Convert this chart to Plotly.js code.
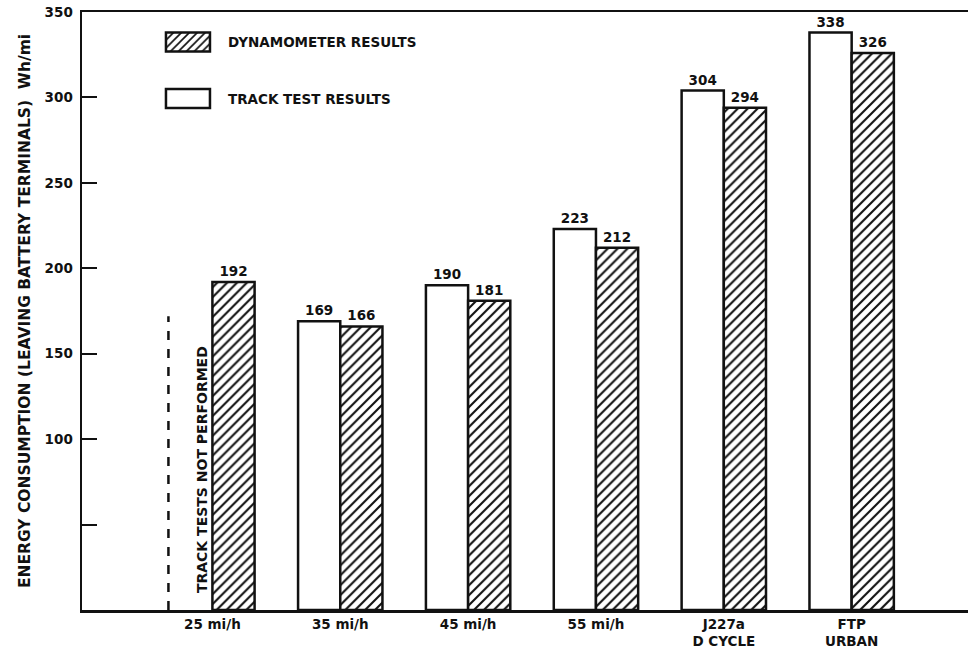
<!DOCTYPE html>
<html>
<head>
<meta charset="utf-8">
<script src="https://cdn.plot.ly/plotly-3.0.1.min.js"></script>
<style>
  html, body { margin: 0; padding: 0; background: #fff; }
  #chart { width: 970px; height: 655px; }
</style>
</head>
<body>
<div id="chart"></div>
<script>
var categories = ["25 mi/h", "35 mi/h", "45 mi/h", "55 mi/h", "J227a<br>D CYCLE", "FTP<br>URBAN"];
var trackValues = [null, 169, 190, 223, 304, 338];
var dynoValues = [192, 166, 181, 212, 294, 326];
var yTickVals = [50, 100, 150, 200, 250, 300, 350];
var yTickText = ["", "100", "150", "200", "250", "300", "350"];
var rightTickVals = [50, 100, 150, 200, 250, 300];
var notPerformedHeight = 172;

var FONT = "DejaVu Sans, Noto Sans, sans-serif";
var INK = "#111";
var W = "bold";

function labels(arr) { return arr.map(function (v) { return v === null ? "" : String(v); }); }

var trackTrace = {
  type: "bar",
  name: "TRACK TEST RESULTS",
  x: categories,
  y: trackValues,
  text: labels(trackValues),
  textposition: "outside",
  cliponaxis: false,
  textfont: { family: FONT, size: 13.5, color: INK, weight: W },
  marker: { color: "#fff", line: { color: INK, width: 2.5 } },
  legendgroup: "track",
  legendrank: 2,
  hoverinfo: "skip"
};

var dynoTrace = {
  type: "bar",
  name: "DYNAMOMETER RESULTS",
  x: categories,
  y: dynoValues,
  text: labels(dynoValues),
  textposition: "outside",
  cliponaxis: false,
  textfont: { family: FONT, size: 13.5, color: INK, weight: W },
  marker: {
    color: "#fff",
    line: { color: INK, width: 2.5 },
    pattern: { shape: "/", fgcolor: INK, bgcolor: "#fff", size: 7, solidity: 0.3 }
  },
  legendgroup: "dyno",
  legendrank: 1,
  hoverinfo: "skip"
};

var layout = {
  width: 970,
  height: 655,
  margin: { l: 82, r: 2, t: 12, b: 45 },
  paper_bgcolor: "#fff",
  plot_bgcolor: "#fff",
  font: { family: FONT, size: 13.5, color: INK, weight: W },
  barmode: "group",
  bargap: 0.34,
  bargroupgap: 0,
  showlegend: true,
  legend: {
    x: 0.1196, y: 0.902, xanchor: "left", yanchor: "middle",
    traceorder: "grouped",
    tracegroupgap: 36,
    bgcolor: "rgba(0,0,0,0)", font: { family: FONT, size: 13.5, color: INK, weight: W }
  },
  xaxis: {
    type: "category",
    range: [-1.02, 5.91],
    showline: true,
    mirror: true,
    linecolor: INK,
    linewidth: 2.5,
    ticks: "",
    showgrid: false,
    zeroline: false,
    tickfont: { family: FONT, size: 13.5, color: INK, weight: W }
  },
  yaxis: {
    range: [0, 350],
    tickvals: yTickVals,
    ticktext: yTickText,
    ticks: "inside",
    ticklen: 15,
    tickwidth: 2,
    tickcolor: INK,
    showline: true,
    linecolor: INK,
    linewidth: 2.5,
    showgrid: false,
    zeroline: false,
    ticklabelstandoff: 4,
    tickfont: { family: FONT, size: 13.5, color: INK, weight: W },
    title: {
      text: "ENERGY CONSUMPTION (LEAVING BATTERY TERMINALS)  Wh/mi",
      font: { family: FONT, size: 15.5, color: INK, weight: W },
      standoff: 10
    }
  },
  yaxis2: {
    overlaying: "y",
    side: "right",
    anchor: "x",
    range: [0, 350],
    tickvals: rightTickVals,
    ticks: "inside",
    ticklen: 8,
    tickwidth: 2,
    tickcolor: INK,
    showline: false,
    showgrid: false,
    zeroline: false,
    showticklabels: false
  },
  shapes: [
    {
      type: "line", xref: "x", yref: "y",
      x0: -0.344, x1: -0.344, y0: 0, y1: notPerformedHeight,
      line: { color: INK, width: 2.5, dash: "dash" }
    }
  ],
  annotations: [
    {
      xref: "x", yref: "y", x: -0.08, y: 82,
      text: "TRACK TESTS NOT PERFORMED",
      textangle: -90, showarrow: false,
      font: { family: FONT, size: 14, color: INK, weight: W }
    }
  ]
};

function fixLegend(gd) {
  gd.querySelectorAll("g.scrollbox").forEach(function (s) { s.removeAttribute("clip-path"); });
  gd.querySelectorAll("g.traces").forEach(function (t) {
    var tx = t.querySelector("text.legendtext");
    if (!tx) return;
    t.querySelectorAll(".legendpoints path").forEach(function (p) {
      if (p.getAttribute("data-fixed")) return;
      var pr = p.getBoundingClientRect();
      if (!pr.width) return;
      var trc = tx.getBoundingClientRect();
      var cx = pr.left + pr.width / 2;
      var target = trc.left - 18 - 22;
      p.setAttribute("d", "M-22,-9.5H22V9.5H-22Z");
      var tr = p.getAttribute("transform") || "";
      p.setAttribute("transform", tr + " translate(" + (target - cx) + ",0)");
      p.setAttribute("data-fixed", "1");
    });
  });
}

Plotly.newPlot("chart", [trackTrace, dynoTrace], layout, { staticPlot: true }).then(function (gd) {
  fixLegend(gd);
  setTimeout(function () { fixLegend(gd); }, 60);
});
</script>
</body>
</html>
